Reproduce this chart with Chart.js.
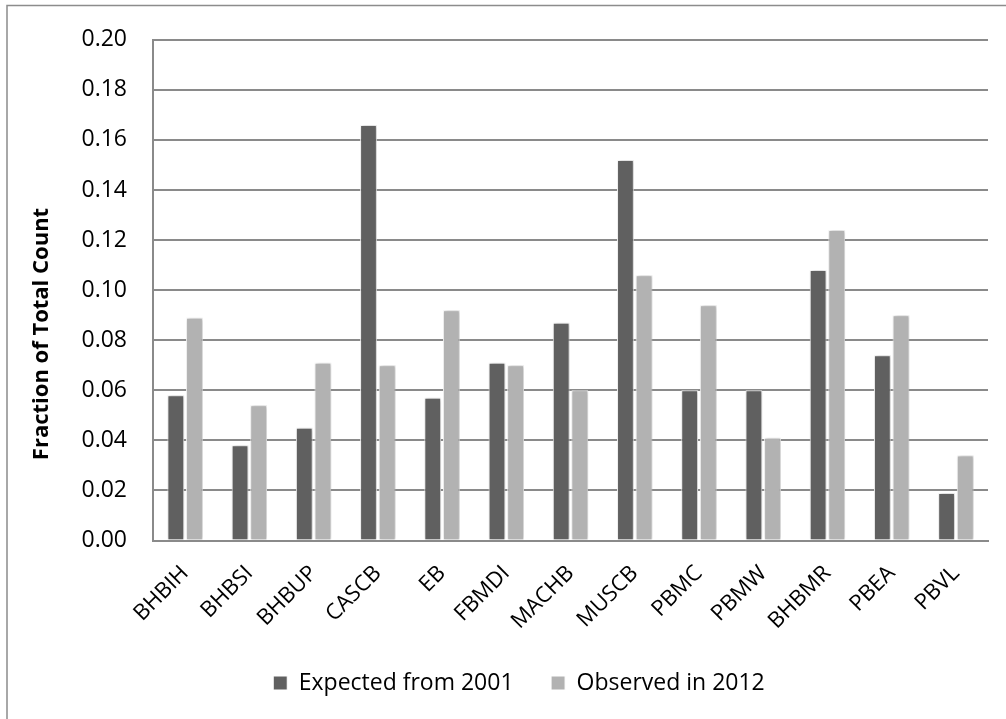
<!DOCTYPE html>
<html><head><meta charset="utf-8">
<script src="https://cdn.jsdelivr.net/npm/chart.js@4.4.0/dist/chart.umd.min.js"></script>
<style>html,body{margin:0;padding:0;background:#fff;}</style>
</head><body>
<canvas id="c" width="1006" height="719"></canvas>
<script>
const categories = ['BHBIH','BHBSI','BHBUP','CASCB','EB','FBMDI','MACHB','MUSCB','PBMC','PBMW','BHBMR','PBEA','PBVL'];
const expected2001 = [0.058, 0.038, 0.045, 0.166, 0.057, 0.071, 0.087, 0.152, 0.060, 0.060, 0.108, 0.074, 0.019];
const observed2012 = [0.089, 0.054, 0.071, 0.070, 0.092, 0.070, 0.060, 0.106, 0.094, 0.041, 0.124, 0.090, 0.034];
const seriesNames = ['Expected from 2001', 'Observed in 2012'];
const yMin = 0, yMax = 0.20, yStep = 0.02;
const yAxisTitle = 'Fraction of Total Count';

const FONT = '"Open Sans", "DejaVu Sans", sans-serif';

const framePlugin = {
  id: 'frame',
  beforeDraw(chart) {
    const ctx = chart.ctx;
    ctx.save();
    ctx.fillStyle = '#ffffff';
    ctx.fillRect(0, 0, chart.width, chart.height);
    ctx.strokeStyle = '#8c8c8c';
    ctx.lineWidth = 1.5;
    ctx.beginPath();
    ctx.moveTo(7, chart.height);
    ctx.lineTo(7, 5.5);
    ctx.lineTo(chart.width, 5.5);
    ctx.stroke();
    ctx.restore();
  },
  afterDraw(chart) {
    const ctx = chart.ctx;
    ctx.save();
    ctx.translate(42, 334);
    ctx.rotate(-Math.PI / 2);
    ctx.font = 'bold 22px ' + FONT;
    ctx.fillStyle = '#000000';
    ctx.textAlign = 'center';
    ctx.textBaseline = 'middle';
    ctx.fillText(yAxisTitle, 0, 0);
    ctx.restore();
  },
  beforeDatasetsDraw(chart) {
    const ctx = chart.ctx;
    ctx.save();
    ctx.shadowColor = 'rgba(0,0,0,0.28)';
    ctx.shadowBlur = 4;
    ctx.shadowOffsetX = 1;
    ctx.shadowOffsetY = 0;
  },
  afterDatasetsDraw(chart) {
    chart.ctx.restore();
  }
};

new Chart(document.getElementById('c'), {
  type: 'bar',
  data: {
    labels: categories,
    datasets: [
      { label: seriesNames[0], data: expected2001, backgroundColor: '#606060', borderColor: '#ffffff', borderWidth: 1 },
      { label: seriesNames[1], data: observed2012, backgroundColor: '#b2b2b2', borderColor: '#ffffff', borderWidth: 1 }
    ]
  },
  options: {
    responsive: false,
    animation: false,
    devicePixelRatio: 1,
    layout: { padding: { left: 50, right: 18, top: 34.3, bottom: 14.5 } },
    datasets: { bar: { categoryPercentage: 0.58, barPercentage: 0.9 } },
    plugins: {
      legend: {
        position: 'bottom',
        labels: {
          font: { family: FONT, size: 23 },
          color: '#000000',
          boxWidth: 14,
          boxHeight: 14,
          padding: 37.5
        }
      },
      tooltip: { enabled: false }
    },
    scales: {
      x: {
        grid: { display: false, drawTicks: false },
        border: { display: true, color: '#8a8a8a', width: 2 },
        ticks: {
          font: { family: FONT, size: 22 },
          color: '#000000',
          minRotation: 45,
          maxRotation: 45,
          autoSkip: false,
          padding: 20
        },
        afterFit(scale) { scale.height = 93.5; }
      },
      y: {
        min: yMin,
        max: yMax,
        grid: { color: '#8a8a8a', lineWidth: 2, drawTicks: false },
        border: { display: true, color: '#8a8a8a', width: 2 },
        ticks: {
          stepSize: yStep,
          font: { family: FONT, size: 23 },
          color: '#000000',
          padding: 26,
          callback: v => Number(v).toFixed(2)
        },
        afterFit(scale) { scale.width = 103; }
      }
    }
  },
  plugins: [framePlugin]
});
</script>
</body></html>
